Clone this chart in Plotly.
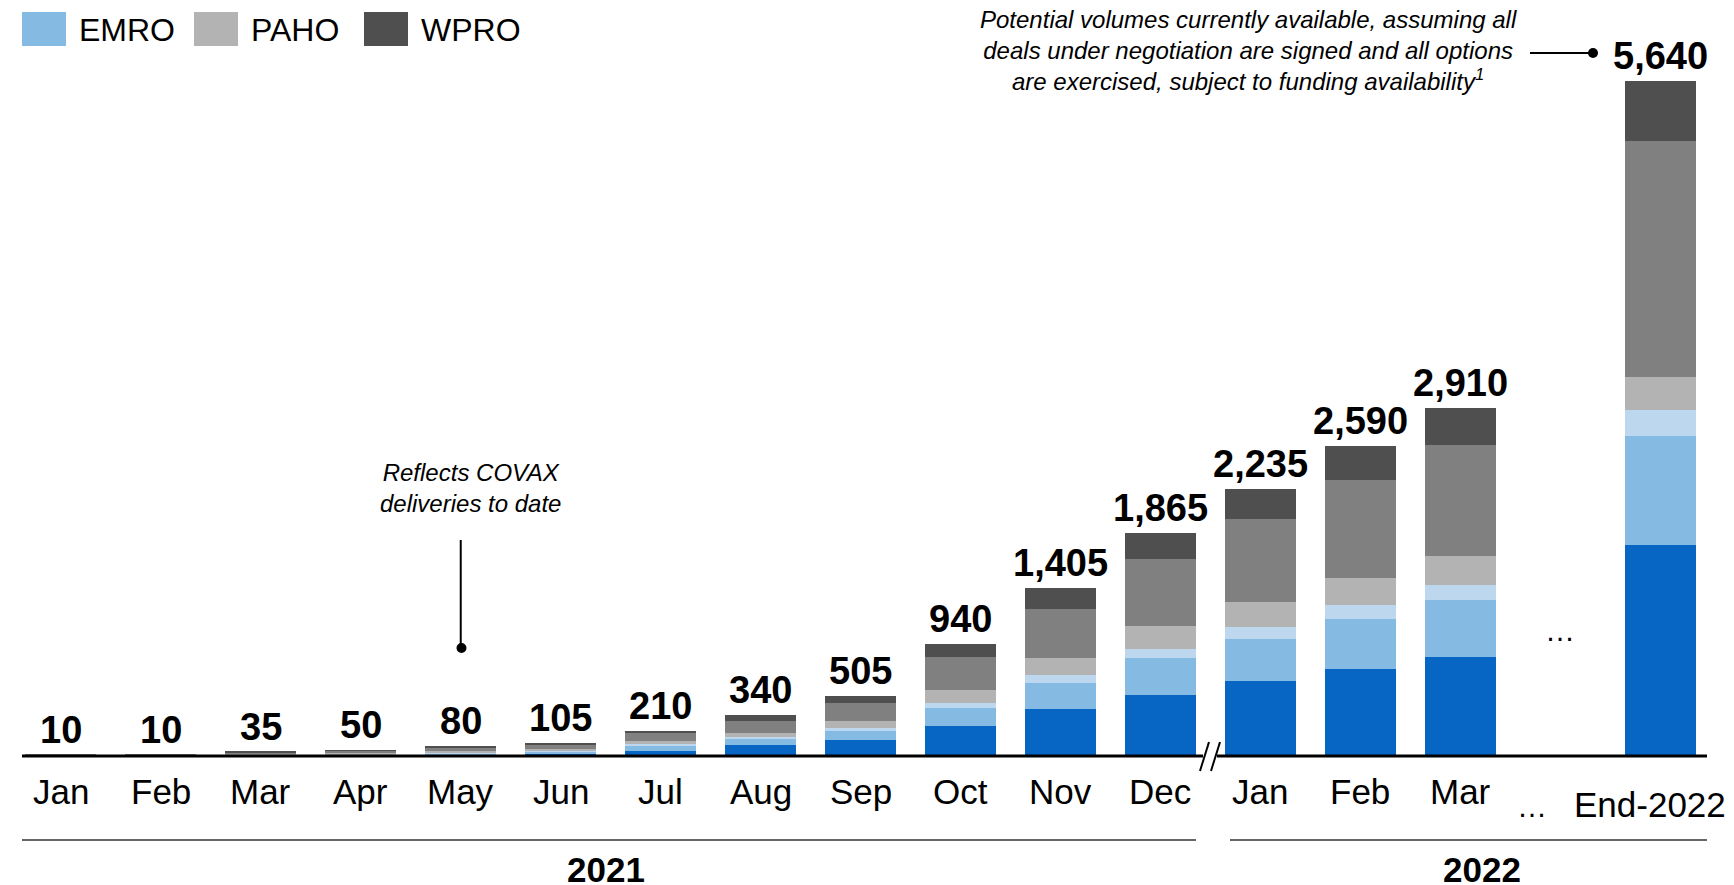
import plotly.graph_objects as go

# category slots (unique keys) and the labels shown under them
slots = ["Jan-21", "Feb-21", "Mar-21", "Apr-21", "May-21", "Jun-21", "Jul-21", "Aug-21",
         "Sep-21", "Oct-21", "Nov-21", "Dec-21", "Jan-22", "Feb-22", "Mar-22", "gap", "End-2022"]
month_labels = ["Jan", "Feb", "Mar", "Apr", "May", "Jun", "Jul", "Aug", "Sep", "Oct", "Nov", "Dec",
                "Jan", "Feb", "Mar"]
end_label = "End-2022"
years = ["2021", "2022"]

totals = [10, 10, 35, 50, 80, 105, 210, 340, 505, 940, 1405, 1865, 2235, 2590, 2910, None, 5640]

# stacked segments, bottom to top
afro = [0, 0, 2, 6, 12, 20, 45, 90, 130, 250, 390, 510, 625, 730, 830, None, 1765]
emro = [0, 0, 3, 6, 12, 20, 40, 55, 75, 150, 220, 305, 355, 415, 470, None, 910]
euro = [0, 0, 3, 4, 6, 8, 15, 15, 30, 40, 65, 80, 100, 120, 130, None, 215]
paho = [2, 2, 10, 10, 12, 14, 25, 35, 55, 110, 145, 190, 205, 225, 245, None, 275]
searo = [8, 8, 15, 20, 30, 30, 65, 100, 150, 275, 410, 565, 695, 815, 920, None, 1975]
wpro = [0, 0, 2, 4, 8, 13, 20, 45, 65, 115, 175, 215, 255, 285, 315, None, 500]

series = [
    ("AFRO", afro, "#0765C4"),
    ("EMRO", emro, "#85BBE3"),
    ("EURO", euro, "#BDD7EE"),
    ("PAHO", paho, "#B3B3B3"),
    ("SEARO", searo, "#808080"),
    ("WPRO", wpro, "#4F4F4F"),
]
legend_names = ["EMRO", "PAHO", "WPRO"]

note_covax = "Reflects COVAX<br>deliveries to date"
note_potential = ("Potential volumes currently available, assuming all<br>"
                  "deals under negotiation are signed and all options<br>"
                  "are exercised, subject to funding availability<sup>1</sup>")

W, H = 1734, 885
OFF = 8  # page margin around the figure
L, R, T, B = 3, 32, 30, 137
FONT = "Arial, Liberation Sans, sans-serif"


def px_x(px):
    return (px - OFF - L) / (W - L - R)


def px_y(py):
    return (H - B - (py - OFF)) / (H - T - B)


def slot_x(i):
    return (i + 0.5) / len(slots)


def text(x, y, s, size, **kw):
    d = dict(x=x, y=y, xref="paper", yref="paper", text=s, showarrow=False,
             xanchor="center", yanchor="middle",
             font=dict(size=size, color="black", family=FONT))
    d.update(kw)
    return d


fig = go.Figure()
for name, vals, col in series:
    fig.add_trace(go.Bar(x=slots, y=vals, name=name, marker_color=col,
                         marker_line_width=0, width=0.71, showlegend=False))

annotations = []
shapes = []

# totals above bars
for i, t in enumerate(totals):
    if t is None:
        continue
    annotations.append(dict(x=slots[i], y=t, xref="x", yref="y", xanchor="center",
                            yanchor="bottom", text="<b>{:,}</b>".format(t), showarrow=False,
                            yshift=2, font=dict(size=38, color="black", family=FONT)))

# month labels
for i, m in enumerate(month_labels):
    annotations.append(text(slot_x(i), px_y(791), m, 35))
annotations.append(text(px_x(1650), px_y(804), end_label, 35))
annotations.append(text(px_x(1532), px_y(806), "…", 30))
annotations.append(text(slot_x(15), px_y(630), "…", 30))

# year groups
annotations.append(text(px_x(606), px_y(869), "<b>" + years[0] + "</b>", 35))
annotations.append(text(px_x(1482), px_y(869), "<b>" + years[1] + "</b>", 35))
shapes.append(dict(type="line", xref="paper", yref="paper", x0=px_x(22), x1=px_x(1196),
                   y0=px_y(840), y1=px_y(840), line=dict(color="#333333", width=1.5)))
shapes.append(dict(type="line", xref="paper", yref="paper", x0=px_x(1230), x1=px_x(1707),
                   y0=px_y(840), y1=px_y(840), line=dict(color="#333333", width=1.5)))

# baseline with axis break
shapes.append(dict(type="line", xref="paper", yref="paper", x0=px_x(22), x1=px_x(1707),
                   y0=0, y1=0, line=dict(color="black", width=3)))
shapes.append(dict(type="line", xref="paper", yref="paper", x0=px_x(1203), x1=px_x(1217),
                   y0=0, y1=0, line=dict(color="white", width=4)))
for bx in [1200, 1211]:
    shapes.append(dict(type="line", xref="paper", yref="paper", x0=px_x(bx), x1=px_x(bx + 9),
                       y0=px_y(771), y1=px_y(742), line=dict(color="black", width=2)))

# legend
for name, x0 in zip(legend_names, [22, 194, 364]):
    col = [c for n, v, c in series if n == name][0]
    shapes.append(dict(type="rect", xref="paper", yref="paper", x0=px_x(x0), x1=px_x(x0 + 44),
                       y0=px_y(46), y1=px_y(12), fillcolor=col, line=dict(width=0)))
    annotations.append(text(px_x(x0 + 55), px_y(30), name, 32, xanchor="left"))

# notes
annotations.append(text(px_x(470), px_y(488), "<i>" + note_covax + "</i>", 24))
shapes.append(dict(type="line", xref="paper", yref="paper", x0=slot_x(4), x1=slot_x(4),
                   y0=px_y(540), y1=px_y(648), line=dict(color="black", width=2)))
shapes.append(dict(type="circle", xref="paper", yref="paper",
                   x0=px_x(456.5), x1=px_x(466.5), y0=px_y(653), y1=px_y(643),
                   fillcolor="black", line=dict(width=0)))

annotations.append(text(px_x(1248), px_y(51), "<i>" + note_potential + "</i>", 24))
shapes.append(dict(type="line", xref="paper", yref="paper", x0=px_x(1530), x1=px_x(1593),
                   y0=px_y(53), y1=px_y(53), line=dict(color="black", width=2)))
shapes.append(dict(type="circle", xref="paper", yref="paper",
                   x0=px_x(1588), x1=px_x(1598), y0=px_y(58), y1=px_y(48),
                   fillcolor="black", line=dict(width=0)))

fig.update_layout(
    barmode="stack",
    width=W,
    height=H,
    margin=dict(l=L, r=R, t=T, b=B),
    plot_bgcolor="white",
    paper_bgcolor="white",
    showlegend=False,
    font=dict(family=FONT, color="black"),
    xaxis=dict(categoryorder="array", categoryarray=slots, range=[-0.5, len(slots) - 0.5],
               visible=False, fixedrange=True),
    yaxis=dict(range=[0, 6000], visible=False, fixedrange=True),
    annotations=annotations,
    shapes=shapes,
)

fig.write_html("out.html")
